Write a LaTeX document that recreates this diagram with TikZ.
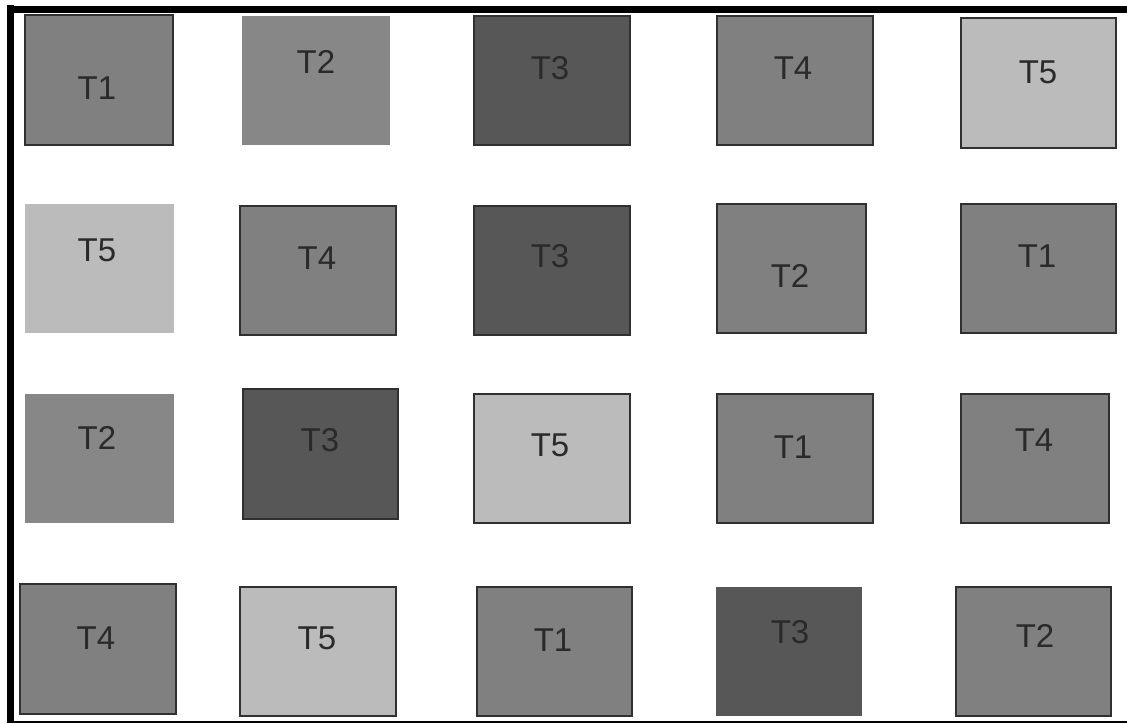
\documentclass[tikz,border=0pt]{standalone}
\usepackage{fontspec}
\setmainfont{Liberation Sans}
\usepackage{tikz}
\usetikzlibrary{positioning}

\definecolor{cellMid}{HTML}{808080}
\definecolor{cellMidB}{HTML}{878787}
\definecolor{cellDark}{HTML}{575757}
\definecolor{cellLight}{HTML}{BBBBBB}
\definecolor{cellEdge}{HTML}{303030}
\definecolor{cellText}{HTML}{2A2A2A}

\begin{document}
\begin{tikzpicture}[x=1pt, y=-1pt, font=\fontsize{33}{38}\selectfont,
    taskMid/.style={fill=cellMid, draw=cellEdge, line width=2pt},
    taskMidB/.style={fill=cellMidB},
    taskDark/.style={fill=cellDark, draw=cellEdge, line width=2pt},
    taskLight/.style={fill=cellLight, draw=cellEdge, line width=2pt},
    taskLbl/.style={text=cellText, inner sep=0pt},
  ]
  \useasboundingbox (0,0) rectangle (1127,723);
  % frame: thick on left and top, thin line at the bottom
  \draw[line width=7pt] (10.5,723) -- (10.5,5) (7,9) -- (1127,9);
  \draw[line width=1.5pt] (7,722) -- (1127,722);

  % row 1: T1 T2 T3 T4 T5
  \draw[taskMid] (25,15) rectangle (173,145);
  \node[taskLbl] (a1) at (97,88) {T1};
  \fill[taskMidB] (242,16) rectangle (390,145);
  \node[taskLbl] (a2) at (316,62) {T2};
  \draw[taskDark] (474,16) rectangle (630,145);
  \node[taskLbl] (a3) at (550,68) {T3};
  \draw[taskMid] (717,16) rectangle (873,145);
  \node[taskLbl] (a4) at (793,68) {T4};
  \draw[taskLight] (961,18) rectangle (1116,148);
  \node[taskLbl] (a5) at (1038,72) {T5};

  % row 2: T5 T4 T3 T2 T1
  \fill[cellLight] (25,204) rectangle (174,333);
  \node[taskLbl] (b1) at (97,250) {T5};
  \draw[taskMid] (240,206) rectangle (396,335);
  \node[taskLbl] (b2) at (317,258) {T4};
  \draw[taskDark] (474,206) rectangle (630,335);
  \node[taskLbl] (b3) at (550,256) {T3};
  \draw[taskMid] (717,204) rectangle (866,333);
  \node[taskLbl] (b4) at (790,276) {T2};
  \draw[taskMid] (961,204) rectangle (1116,333);
  \node[taskLbl] (b5) at (1037,256) {T1};

  % row 3: T2 T3 T5 T1 T4
  \fill[taskMidB] (25,394) rectangle (174,523);
  \node[taskLbl] (c1) at (97,438) {T2};
  \draw[taskDark] (243,389) rectangle (398,519);
  \node[taskLbl] (c2) at (320,440) {T3};
  \draw[taskLight] (474,394) rectangle (630,523);
  \node[taskLbl] (c3) at (550,445) {T5};
  \draw[taskMid] (717,394) rectangle (873,523);
  \node[taskLbl] (c4) at (793,447) {T1};
  \draw[taskMid] (961,394) rectangle (1109,523);
  \node[taskLbl] (c5) at (1034,440) {T4};

  % row 4: T4 T5 T1 T3 T2
  \draw[taskMid] (20,584) rectangle (176,714);
  \node[taskLbl] (d1) at (96,638) {T4};
  \draw[taskLight] (240,587) rectangle (396,716);
  \node[taskLbl] (d2) at (317,638) {T5};
  \draw[taskMid] (477,587) rectangle (632,716);
  \node[taskLbl] (d3) at (553,640) {T1};
  \fill[cellDark] (716,587) rectangle (862,716);
  \node[taskLbl] (d4) at (790,632) {T3};
  \draw[taskMid] (956,587) rectangle (1111,716);
  \node[taskLbl] (d5) at (1035,636) {T2};
\end{tikzpicture}
\end{document}
